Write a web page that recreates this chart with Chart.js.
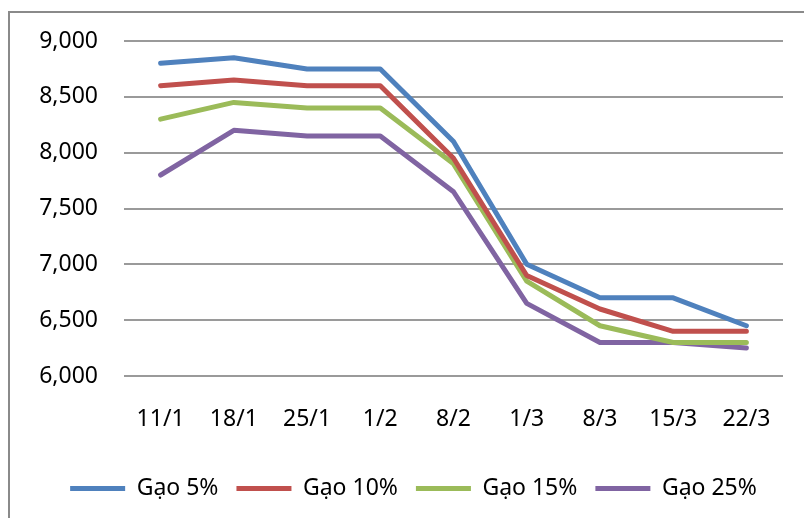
<!DOCTYPE html>
<html>
<head>
<meta charset="utf-8">
<script src="https://cdn.jsdelivr.net/npm/chart.js@4"></script>
<style>
  html, body { margin: 0; padding: 0; background: #fff; }
  #wrap { position: relative; width: 804px; height: 518px; overflow: hidden; }
  #frame { position: absolute; left: 8px; top: 11px; width: 900px; height: 600px;
           border-left: 2px solid #8a8a8a; border-top: 2px solid #8a8a8a; }
  canvas { position: absolute; left: 0; top: 0; }
</style>
</head>
<body>
<div id="wrap">
  <div id="frame"></div>
  <canvas id="rice-chart" width="804" height="518"></canvas>
</div>
<script>
// weeks
var labels = ["11/1", "18/1", "25/1", "1/2", "8/2", "1/3", "8/3", "15/3", "22/3"];

// prices by grade
var gao5  = [8800, 8850, 8750, 8750, 8100, 7000, 6700, 6700, 6450];
var gao10 = [8600, 8650, 8600, 8600, 7950, 6900, 6600, 6400, 6400];
var gao15 = [8300, 8450, 8400, 8400, 7900, 6850, 6450, 6300, 6300];
var gao25 = [7800, 8200, 8150, 8150, 7650, 6650, 6300, 6300, 6250];

var seriesNames = ["Gạo 5%", "Gạo 10%", "Gạo 15%", "Gạo 25%"];
var seriesColors = ["#4f81bd", "#c0504d", "#9bbb59", "#8064a2"];

var yTicks = [6000, 6500, 7000, 7500, 8000, 8500, 9000];

var font = { family: "'Noto Sans', sans-serif", size: 23 };

var makeSet = function (i, data) {
    return {
        label: seriesNames[i],
        data: data,
        borderColor: seriesColors[i],
        backgroundColor: seriesColors[i],
        borderWidth: 5,
        borderCapStyle: "round",
        borderJoinStyle: "round",
        pointRadius: 0,
        tension: 0
    };
};

// legend sits centred on the whole frame, not just the plot
var legendShift = {
    id: "legendShift",
    afterLayout: function (c) {
        c.legend.left += 22;
        c.legend.right += 22;
    }
};

var ctx = document.getElementById("rice-chart");
var chart = new Chart(ctx, {
    type: "line",
    data: {
        labels: labels,
        datasets: [makeSet(0, gao5), makeSet(1, gao10), makeSet(2, gao15), makeSet(3, gao25)]
    },
    options: {
        responsive: false,
        animation: false,
        layout: { padding: { left: 0, top: 41, right: 21, bottom: 8 } },
        scales: {
            x: {
                offset: true,
                afterFit: function (scale) { scale.height = 83; },
                grid: { display: false, drawTicks: false },
                border: { display: false },
                ticks: { color: "#000", font: font, padding: 30, maxRotation: 0 }
            },
            y: {
                min: 6000,
                max: 9000,
                afterFit: function (scale) { scale.width = 124; },
                afterBuildTicks: function (scale) {
                    scale.ticks = yTicks.map(v => ({ value: v }));
                },
                grid: { color: "#9a9a9a", lineWidth: 2, drawTicks: false },
                border: { display: false },
                ticks: {
                    color: "#000",
                    font: font,
                    padding: 26,
                    callback: v => v.toLocaleString("en-US")
                }
            }
        },
        plugins: {
            tooltip: { enabled: false },
            legend: {
                position: "bottom",
                labels: {
                    color: "#000",
                    font: font,
                    usePointStyle: true,
                    pointStyle: "line",
                    pointStyleWidth: 55,
                    padding: 18
                }
            }
        }
    },
    plugins: [legendShift]
});
</script>
</body>
</html>
